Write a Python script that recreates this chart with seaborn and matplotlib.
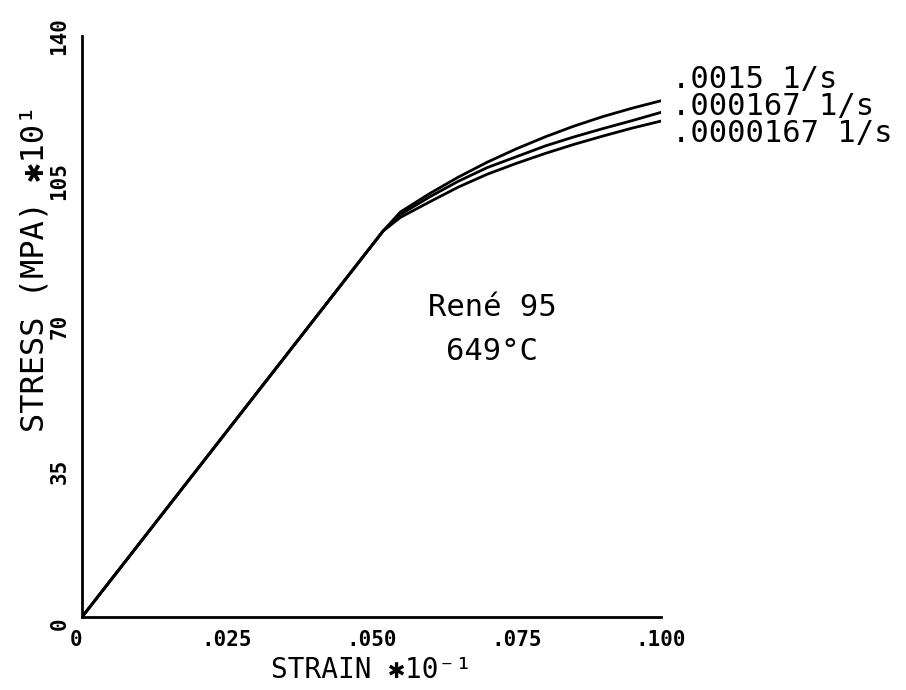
import numpy as np
import pandas as pd
import matplotlib
matplotlib.use("Agg")
import matplotlib.pyplot as plt
import seaborn as sns

# ---- data ----
strain = [0.0, 0.052, 0.055, 0.060, 0.065, 0.070, 0.075, 0.080, 0.085, 0.090, 0.095, 0.100]
stress_fast = [0.0, 93.0, 97.6, 102.0, 106.0, 109.6, 112.8, 115.7, 118.3, 120.6, 122.6, 124.4]
stress_mid = [0.0, 93.0, 97.0, 101.2, 105.0, 108.3, 110.9, 113.5, 115.7, 117.7, 119.6, 121.6]
stress_slow = [0.0, 93.0, 96.3, 100.0, 103.6, 106.7, 109.3, 111.7, 113.9, 115.9, 117.8, 119.5]
rate_labels = [".0015 1/s", ".000167 1/s", ".0000167 1/s"]
label_y = [129.5, 123.0, 116.5]
xticks = [0.0, 0.025, 0.050, 0.075, 0.100]
xtick_labels = ["0", ".025", ".050", ".075", ".100"]
yticks = [0, 35, 70, 105, 140]
ytick_labels = ["0", "35", "70", "105", "140"]

series = [stress_fast, stress_mid, stress_slow]
df = pd.concat(
    [pd.DataFrame({"strain": strain, "stress": s, "rate": r}) for s, r in zip(series, rate_labels)],
    ignore_index=True,
)

sns.set_style("white")
FAM = ["DejaVu Sans Mono", "DejaVu Sans"]
plt.rcParams["font.family"] = FAM

fig = plt.figure(figsize=(9.06, 6.90), dpi=100)
ax = fig.add_axes([82 / 906, 1 - 617 / 690, (661 - 82) / 906, (617 - 36) / 690])

sns.lineplot(data=df, x="strain", y="stress", hue="rate", hue_order=rate_labels,
             palette=["black"] * 3, linewidth=2.0, legend=False, ax=ax, sort=False)

ax.set_xlim(0, 0.1)
ax.set_ylim(0, 140)
for side in ["top", "right"]:
    ax.spines[side].set_visible(False)
for side in ["left", "bottom"]:
    ax.spines[side].set_color("black")
    ax.spines[side].set_linewidth(2.0)

ax.set_xticks(xticks)
ax.set_xticklabels(xtick_labels, fontweight="bold")
ax.set_yticks(yticks)
ax.set_yticklabels(ytick_labels, fontweight="bold")
ax.tick_params(axis="both", direction="out", length=5, width=2.0, colors="black",
               labelsize=15, pad=4)
for lab in ax.get_yticklabels():
    lab.set_rotation(90)
    lab.set_va("center")
ax.get_yticklabels()[0].set_va("top")
ax.get_xticklabels()[0].set_ha("right")

ax.set_xlabel("STRAIN ✱10⁻¹", fontsize=20, labelpad=5, color="black")
ax.set_ylabel("STRESS (MPA) ✱10¹", fontsize=23, color="black")
ax.yaxis.set_label_coords(-0.055, 0.60)

for lab, yv in zip(rate_labels, label_y):
    ax.text(0.1019, yv, lab, fontsize=22, ha="left", va="center", color="black", clip_on=False)

ax.text(0.0708, 74.5, "René 95", fontsize=22, ha="center", va="center", color="black")
ax.text(0.0708, 63.9, "649°C", fontsize=22, ha="center", va="center", color="black")

fig.savefig("out.png", dpi=100)
